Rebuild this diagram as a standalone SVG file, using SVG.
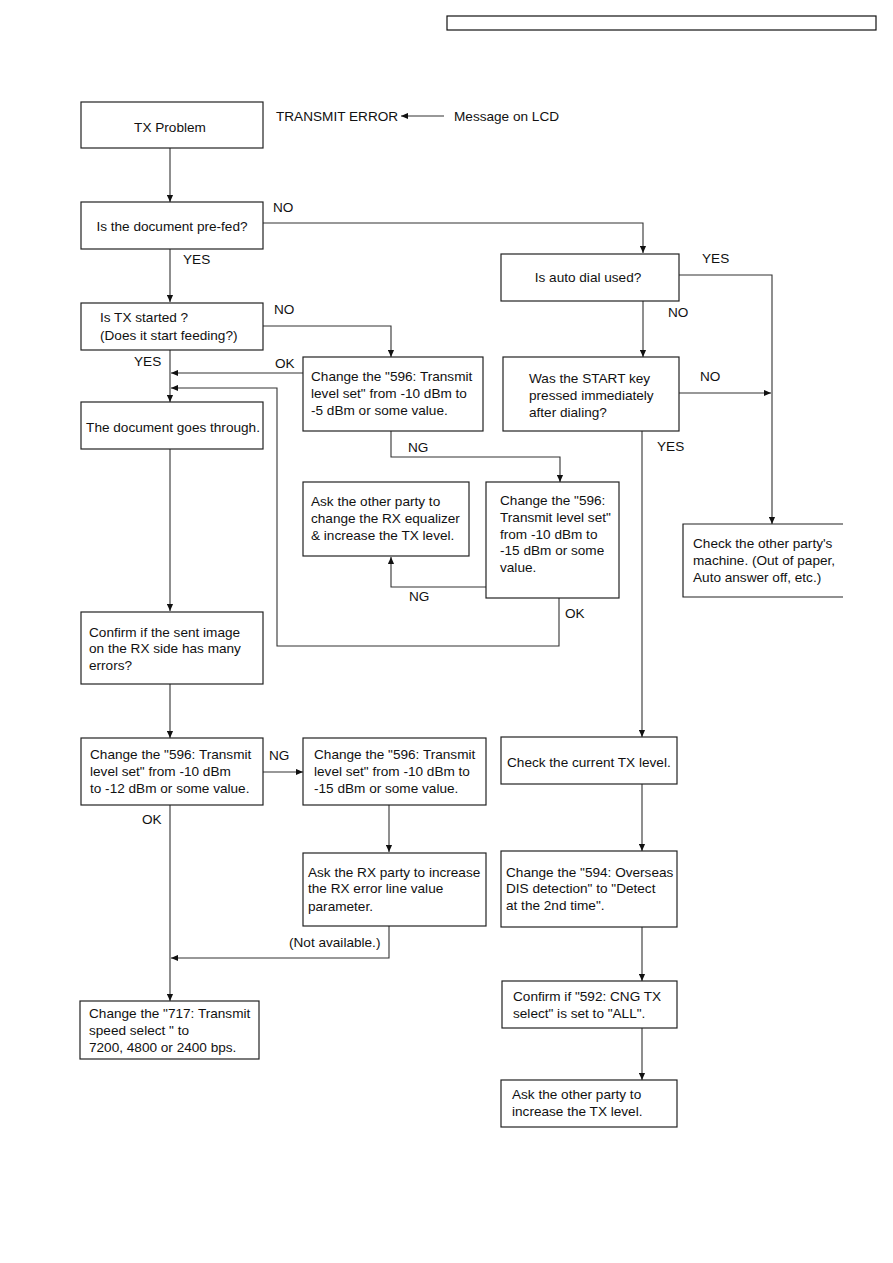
<svg xmlns="http://www.w3.org/2000/svg" width="893" height="1263" viewBox="0 0 893 1263">
<defs>
<marker id="ah" viewBox="0 0 8 8" refX="8" refY="4" markerWidth="7" markerHeight="7" markerUnits="userSpaceOnUse" orient="auto">
<path d="M0,0.5 L8,4 L0,7.5 Z" fill="#111"/>
</marker>
<style>
.box{fill:#fff;stroke:#222;stroke-width:1.2}
.open{fill:none;stroke:#222;stroke-width:1.2}
.c{fill:none;stroke:#333;stroke-width:1.1}
.a{fill:none;stroke:#333;stroke-width:1.1;marker-end:url(#ah)}
text{font-family:"Liberation Sans",Arial,sans-serif;font-size:13.6px;fill:#111}
.m{text-anchor:middle}
</style>
</defs>
<rect width="893" height="1263" fill="#fff"/>
<rect x="447" y="16" width="429" height="14" fill="none" stroke="#111" stroke-width="1.2"/>

<g id="connectors">
<path class="a" d="M444,116 L401,116"/>
<path class="a" d="M170,148 L170,202"/>
<path class="a" d="M263,223 L643,223 L643,253"/>
<path class="a" d="M170,249 L170,302"/>
<path class="a" d="M263,326 L391,326 L391,357"/>
<path class="a" d="M303,373 L171,373"/>
<path class="a" d="M559,598 L559,646 L277,646 L277,388 L171,388"/>
<path class="a" d="M170,350 L170,402"/>
<path class="a" d="M391,431 L391,457 L560,457 L560,482"/>
<path class="a" d="M486,587 L391,587 L391,557"/>
<path class="a" d="M170,449 L170,611"/>
<path class="a" d="M170,684 L170,738"/>
<path class="a" d="M263,772 L303,772"/>
<path class="a" d="M389,805 L389,852"/>
<path class="a" d="M389,926 L389,958 L171,958"/>
<path class="a" d="M170,805 L170,1001"/>
<path class="a" d="M679,275 L772,275 L772,524"/>
<path class="a" d="M643,301 L643,357"/>
<path class="a" d="M679,393 L771,393"/>
<path class="a" d="M642,431 L642,737"/>
<path class="a" d="M642,784 L642,851"/>
<path class="a" d="M642,927 L642,981"/>
<path class="a" d="M642,1028 L642,1080"/>
</g>

<g id="labels">
<text x="276" y="121">TRANSMIT ERROR</text>
<text x="454" y="121">Message on LCD</text>
<text x="273" y="212">NO</text>
<text x="183" y="264">YES</text>
<text x="274" y="314">NO</text>
<text x="134" y="366">YES</text>
<text x="275" y="368">OK</text>
<text x="408" y="452">NG</text>
<text x="409" y="601">NG</text>
<text x="565" y="618">OK</text>
<text x="269" y="760">NG</text>
<text x="142" y="824">OK</text>
<text x="289" y="947">(Not available.)</text>
<text x="702" y="263">YES</text>
<text x="668" y="317">NO</text>
<text x="700" y="381">NO</text>
<text x="657" y="451">YES</text>
</g>

<g id="n-txproblem"><rect class="box" x="81" y="102" width="182" height="46"/><text class="m" x="170" y="132">TX Problem</text></g>
<g id="n-prefed"><rect class="box" x="81" y="202" width="182" height="47"/><text class="m" x="172" y="231">Is the document pre-fed?</text></g>
<g id="n-txstarted"><rect class="box" x="81" y="303" width="182" height="47"/><text x="100" y="322">Is TX started ?</text><text x="100" y="340">(Does it start feeding?)</text></g>
<g id="n-change5"><rect class="box" x="303" y="357" width="180" height="74"/><text x="311" y="381">Change the "596: Transmit</text><text x="311" y="398">level set" from -10 dBm to</text><text x="311" y="415">-5 dBm or some value.</text></g>
<g id="n-goes"><rect class="box" x="81" y="402" width="182" height="47"/><text class="m" x="173" y="432">The document goes through.</text></g>
<g id="n-askeq"><rect class="box" x="303" y="482" width="166" height="74"/><text x="311" y="506">Ask the other party to</text><text x="311" y="523">change the RX equalizer</text><text x="311" y="540">&amp; increase the TX level.</text></g>
<g id="n-change15a"><rect class="box" x="486" y="482" width="133" height="116"/><text x="500" y="505">Change the "596:</text><text x="500" y="522">Transmit level set"</text><text x="500" y="539">from -10 dBm to</text><text x="500" y="555">-15 dBm or some</text><text x="500" y="572">value.</text></g>
<g id="n-confirmrx"><rect class="box" x="81" y="612" width="182" height="72"/><text x="89" y="637">Confirm if the sent image</text><text x="89" y="653">on the RX side has many</text><text x="89" y="670">errors?</text></g>
<g id="n-change12"><rect class="box" x="81" y="738" width="182" height="67"/><text x="90" y="759">Change the "596: Transmit</text><text x="90" y="776">level set" from -10 dBm</text><text x="90" y="793">to -12 dBm or some value.</text></g>
<g id="n-change15b"><rect class="box" x="303" y="738" width="183" height="67"/><text x="314" y="759">Change the "596: Transmit</text><text x="314" y="776">level set" from -10 dBm to</text><text x="314" y="793">-15 dBm or some value.</text></g>
<g id="n-askrx"><rect class="box" x="303" y="853" width="183" height="73"/><text x="308" y="877">Ask the RX party to increase</text><text x="308" y="893">the RX error line value</text><text x="308" y="911">parameter.</text></g>
<g id="n-change717"><rect class="box" x="80" y="1001" width="179" height="58"/><text x="89" y="1018">Change the "717: Transmit</text><text x="89" y="1035">speed select " to</text><text x="89" y="1052">7200, 4800 or 2400 bps.</text></g>
<g id="n-autodial"><rect class="box" x="501" y="254" width="178" height="47"/><text class="m" x="588" y="282">Is auto dial used?</text></g>
<g id="n-startkey"><rect class="box" x="503" y="357" width="176" height="74"/><text x="529" y="383">Was the START key</text><text x="529" y="400">pressed immediately</text><text x="529" y="417">after dialing?</text></g>
<g id="n-checkparty"><path class="open" d="M843,524 L683,524 L683,597 L843,597"/><text x="693" y="548">Check the other party's</text><text x="693" y="565">machine. (Out of paper,</text><text x="693" y="582">Auto answer off, etc.)</text></g>
<g id="n-checktx"><rect class="box" x="501" y="737" width="176" height="47"/><text x="507" y="767">Check the current TX level.</text></g>
<g id="n-change594"><rect class="box" x="501" y="851" width="176" height="76"/><text x="506" y="877">Change the "594: Overseas</text><text x="506" y="893">DIS detection" to "Detect</text><text x="506" y="910">at the 2nd time".</text></g>
<g id="n-confirm592"><rect class="box" x="502" y="981" width="175" height="47"/><text x="513" y="1001">Confirm if "592: CNG TX</text><text x="513" y="1018">select" is set to "ALL".</text></g>
<g id="n-askincrease"><rect class="box" x="501" y="1080" width="176" height="47"/><text x="512" y="1099">Ask the other party to</text><text x="512" y="1116">increase the TX level.</text></g>
</svg>
